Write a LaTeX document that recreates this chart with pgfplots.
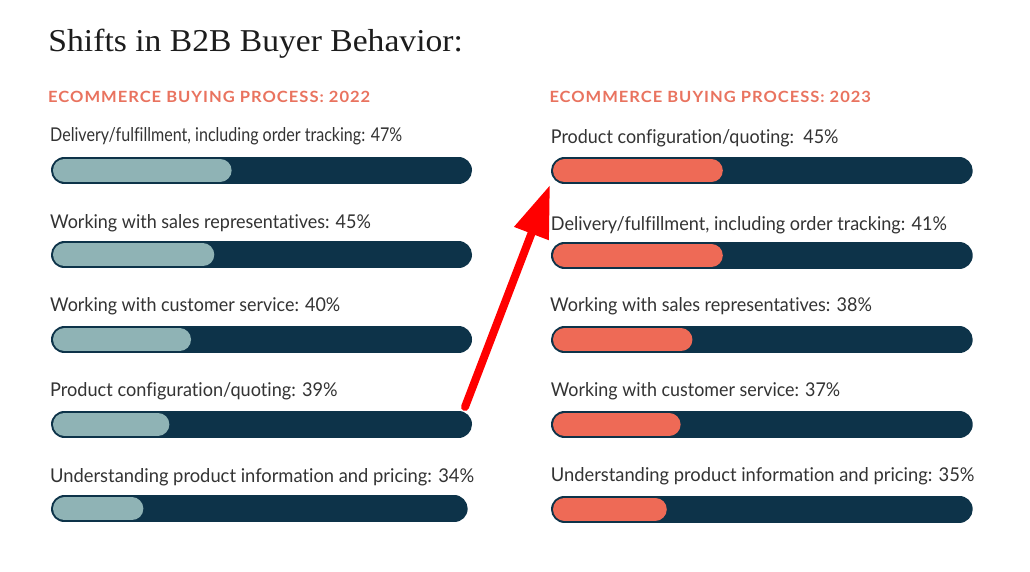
\documentclass[border=0pt]{standalone}
\usepackage{pgfplots}
\pgfplotsset{compat=1.18}
\usepackage{pgfplotstable}
\usepackage{graphicx}
\usepackage{fontspec}
\setmainfont[Ligatures=NoCommon]{Lato}
\newfontfamily\titlefont{Liberation Serif}
\newfontfamily\subfont[LetterSpace=6]{Lato}
\usetikzlibrary{arrows.meta}
\definecolor{navy}{HTML}{0D3349}
\definecolor{tealfill}{HTML}{8FB3B5}
\definecolor{coralfill}{HTML}{EE6A56}
\definecolor{subc}{HTML}{E9735F}
\definecolor{labelc}{HTML}{333333}
\definecolor{titlec}{HTML}{1C1C1C}

\pgfplotstableread{
row track fill
1 100 39.5
2 100 35.1
3 100 29.2
4 100 23.7
5 98.9 17.1
}\tabA
\pgfplotstableread{
row track fill
1 100 37.2
2 100 37.2
3 100 29.5
4 100 26.5
5 100 23.0
}\tabB

\newcommand\lbl[4]{\node[anchor=base west, inner sep=0pt, text=labelc] at (#1pt,#2pt) {\resizebox{#3pt}{14pt}{\fontsize{18}{18}\selectfont #4}};}

\begin{document}
\begin{tikzpicture}
\fill[white] (0,0) rectangle (1030pt,571pt);
\path[use as bounding box] (0,0) rectangle (1030pt,571pt);

\pgfplotsset{barax/.style={
  scale only axis, hide axis, clip=false,
  xmin=0, xmax=100, ymin=1, ymax=5, y dir=reverse,
  anchor=south west}}

\begin{axis}[barax, at={(64.5pt,62.1pt)}, width=394pt, height=338.6pt]
\addplot[xcomb, mark=none, draw=navy, line width=27pt, line cap=round] table[x=track, y=row] {\tabA};
\addplot[xcomb, mark=none, draw=tealfill, line width=23pt, line cap=round] table[x=fill, y=row] {\tabA};
\end{axis}

\begin{axis}[barax, at={(564.5pt,61.9pt)}, width=394.7pt, height=338.3pt]
\addplot[xcomb, mark=none, draw=navy, line width=27pt, line cap=round] table[x=track, y=row] {\tabB};
\addplot[xcomb, mark=none, draw=coralfill, line width=23pt, line cap=round] table[x=fill, y=row] {\tabB};
\end{axis}

% title and subtitles
\node[anchor=base west, inner sep=0pt, text=titlec] at (48.3pt,519.3pt) {\resizebox{414.4pt}{22.4pt}{\titlefont\fontsize{32}{32}\selectfont Shifts in B2B Buyer Behavior:}};
\node[anchor=base west, inner sep=0pt, text=subc] at (48pt,468.7pt) {\resizebox{322pt}{11.3pt}{\subfont\bfseries\fontsize{16}{16}\selectfont ECOMMERCE BUYING PROCESS: 2022}};
\node[anchor=base west, inner sep=0pt, text=subc] at (549.3pt,468.7pt) {\resizebox{321.4pt}{11.3pt}{\subfont\bfseries\fontsize{16}{16}\selectfont ECOMMERCE BUYING PROCESS: 2023}};

% labels left
\lbl{50}{429.3}{352}{Delivery/fulfillment, including order tracking: 47\%}
\lbl{50}{342.7}{320.7}{Working with sales representatives: 45\%}
\lbl{50}{259.3}{290}{Working with customer service: 40\%}
\lbl{50}{174.3}{287.3}{Product configuration/quoting: 39\%}
\lbl{50}{88.3}{424}{Understanding product information and pricing: 34\%}
% labels right
\lbl{550.7}{427.7}{287.6}{Product configuration/quoting:\ \ 45\%}
\lbl{550.7}{340.3}{396}{Delivery/fulfillment, including order tracking: 41\%}
\lbl{550}{259.3}{321.7}{Working with sales representatives: 38\%}
\lbl{550.7}{174.3}{289.3}{Working with customer service: 37\%}
\lbl{550.7}{90}{423.6}{Understanding product information and pricing: 35\%}

% arrow
\draw[red, line width=8pt, line cap=round, -{Triangle[length=52pt, width=35pt]}] (465pt,164pt) -- (550pt,386pt);
\end{tikzpicture}
\end{document}
